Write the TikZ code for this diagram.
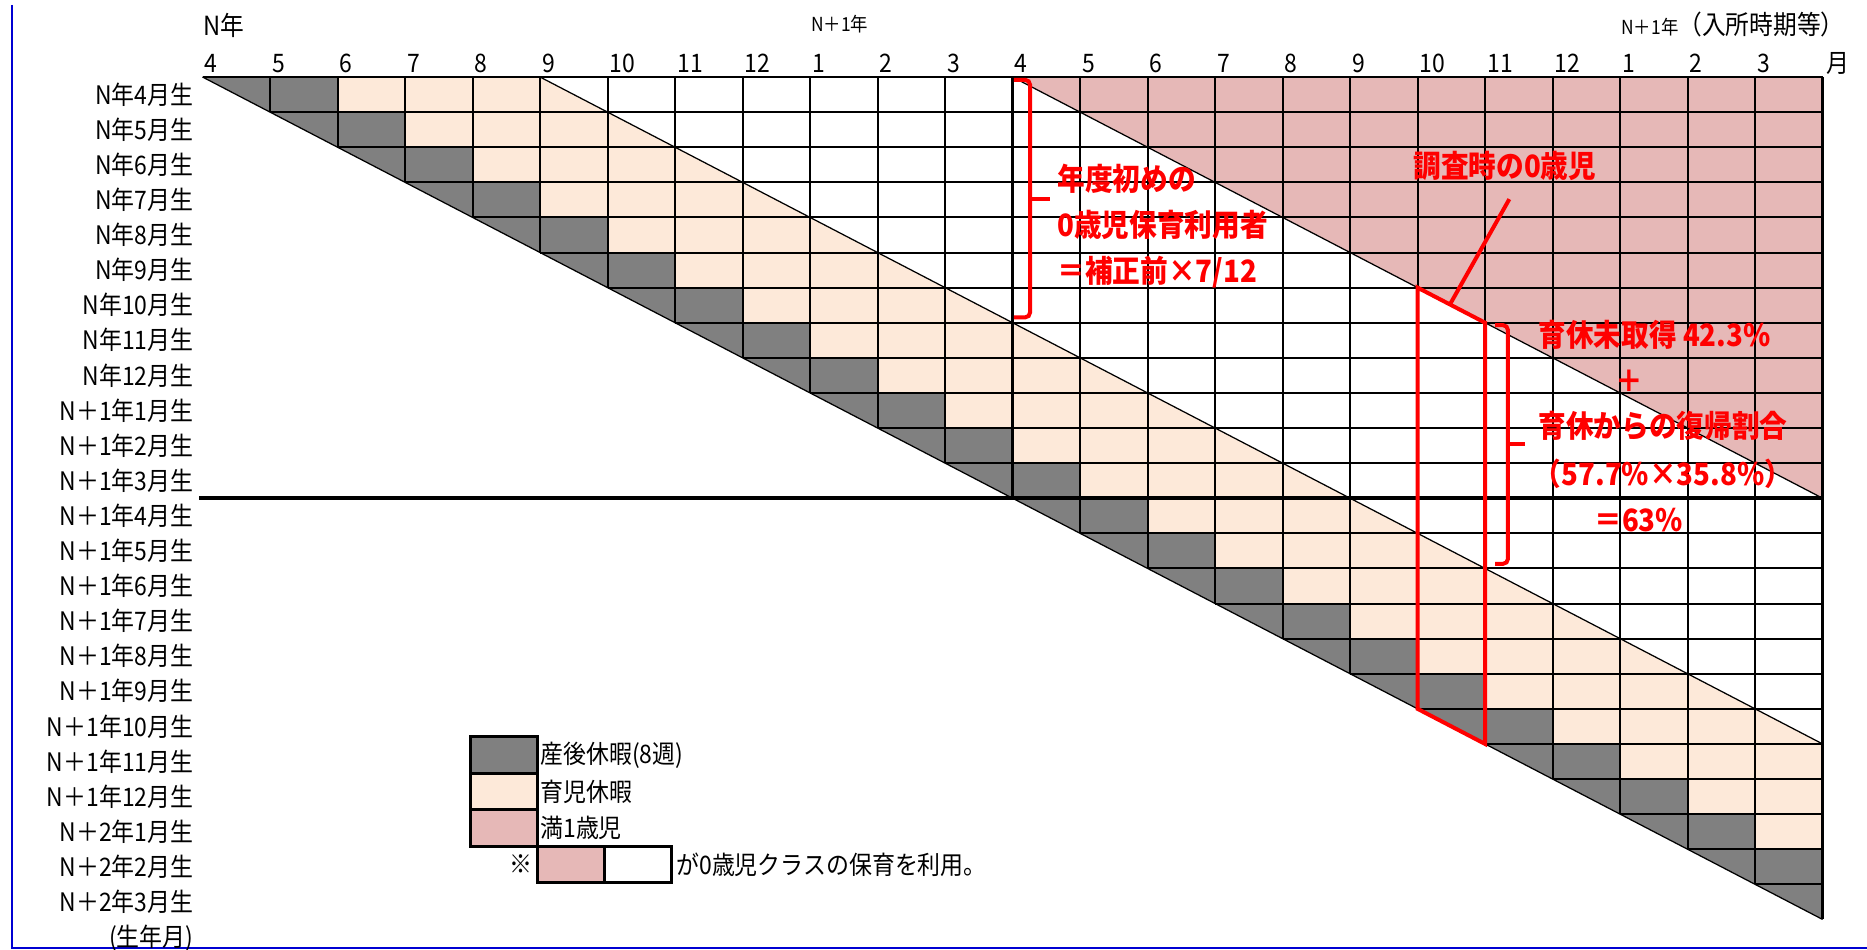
\documentclass[tikz,border=0pt]{standalone}
\usepackage{fontspec}
\setmainfont{Noto Sans CJK JP}[FakeStretch=0.9]
\usetikzlibrary{positioning,calc}
\definecolor{leavegray}{RGB}{128,128,128}
\definecolor{careleave}{RGB}{253,233,217}
\definecolor{oneyear}{RGB}{230,184,183}
\definecolor{frameblue}{RGB}{0,0,210}

\begin{document}
\begin{tikzpicture}[x=0.2mm,y=-0.2mm,
  txt/.style={inner sep=0pt,font=\fontsize{14.5}{17}\selectfont},
  redtxt/.style={inner sep=0pt,text=red,font=\fontsize{17.5}{26}\selectfont\bfseries},
  cellline/.style={line width=0.4mm},
  boldline/.style={line width=0.75mm},
  diagline/.style={line width=0.25mm},
  redline/.style={red,line width=0.8mm,rounded corners=1mm},
  legbox/.style={draw,line width=0.6mm,minimum width=13.4mm,minimum height=7.3mm,inner sep=0pt,outer sep=0pt}]
\useasboundingbox (0,0) rectangle (1867,950);
\draw [frameblue,line width=0.4mm] (12,5) -- (12,948) -- (1867,948) ;

\begin{scope}[shift={(40.5mm,-15.4mm)},x=13.5mm,y=-7.02mm]
\begin{scope}
\clip (0,0) rectangle (24,24);
\fill [oneyear] (12,0) -- (24,0) -- (24,12) -- cycle;
\foreach \r in {0,...,23} {
  \fill [leavegray] (\r,\r) -- ++(2,0) -- ++(0,1) -- ++(-1,0) -- cycle;
  \fill [careleave] (\r+2,\r) -- ++(3,0) -- ++(1,1) -- ++(-4,0) -- cycle;
}
\end{scope}
\foreach \r in {0,...,23} \draw [cellline] (\r,\r) -- (24,\r) ;
\foreach \c in {1,...,23} \draw [cellline] (\c,0) -- (\c,\c) ;
\draw [boldline] (-0.05,12) -- (24,12) ;
\draw [boldline] (12,0) -- (12,12) ;
\draw [boldline] (24,0) -- (24,24) ;
\draw [diagline] (0,0) -- (24,24) ;
\draw [diagline] (5,0) -- (24,19) ;
\draw [diagline] (12,0) -- (24,12) ;

\foreach \m [count=\c from 0] in {4,5,6,7,8,9,10,11,12,1,2,3,4,5,6,7,8,9,10,11,12,1,2,3}
  \node [txt,anchor=base west] (mon-\c) at (\c+0.03,-0.14) {\m};
\foreach \lab [count=\r from 0] in {N年4月生,N年5月生,N年6月生,N年7月生,N年8月生,N年9月生,N年10月生,N年11月生,N年12月生,N＋1年1月生,N＋1年2月生,N＋1年3月生,N＋1年4月生,N＋1年5月生,N＋1年6月生,N＋1年7月生,N＋1年8月生,N＋1年9月生,N＋1年10月生,N＋1年11月生,N＋1年12月生,N＋2年1月生,N＋2年2月生,N＋2年3月生}
  \node [txt,anchor=east] (born-\r) at (-0.13,\r+0.5) {\lab};
\node [txt,anchor=east] (born) at (-0.13,24.53) {(生年月)};

\draw [redline,rounded corners=0pt] (18,6) -- (19,7) -- (19,19) -- (18,18) -- cycle ;
\coordinate (tip) at (19.36,3.48);
\coordinate (foot) at (18.48,6.48);
\draw [redline] (tip) -- (foot) ;
\draw [redline] (12.02,0.08) -- (12.26,0.08) -- (12.26,6.85) -- (12.02,6.85) ;
\draw [redline] (12.26,3.47) -- (12.55,3.47) ;
\draw [redline] (19.15,7.07) -- (19.34,7.07) -- (19.34,13.87) -- (19.15,13.87) ;
\draw [redline] (19.34,10.46) -- (19.59,10.46) ;
\end{scope}

\node [txt,anchor=base west,font=\fontsize{15}{18}\selectfont] (year-n) at (203,36) {N年};
\node [txt,anchor=base west,font=\fontsize{11}{13}\selectfont] (year-n1) at (811,32) {N＋1年};
\node [txt,anchor=base west] (entry) at (1621,35) {{\fontsize{11}{13}\selectfont N＋1年}{\fontsize{15}{18}\selectfont （入所時期等）}};
\node [txt,anchor=base west] (month) at (1826,73) {月};

\node [redtxt,align=left,anchor=west] (usage) at (1057,226) {年度初めの\\0歳児保育利用者\\＝補正前×7/12};
\node [redtxt,anchor=west] (survey) at (1413,166) {調査時の0歳児};
\node [redtxt,anchor=west] (notyet) at (1538,335) {育休未取得 42.3\%};
\node [redtxt] (plus) at (1629,381) {＋};
\node [redtxt,anchor=west] (back) at (1538,426) {育休からの復帰割合};
\node [redtxt] (rate) at (1663,474) {（57.7\%×35.8\%）};
\node [redtxt,anchor=west] (total) at (1594,520) {＝63\%};

\node [legbox,fill=leavegray] (key-leave) at (503.5,755) {};
\node [legbox,fill=careleave,below=0pt of key-leave] (key-care) {};
\node [legbox,fill=oneyear,below=0pt of key-care] (key-one) {};
\node [legbox,fill=oneyear,anchor=north west] (key-pink) at (key-one.south east) {};
\node [legbox,fill=white,right=0pt of key-pink] (key-white) {};
\node [txt,anchor=west,xshift=0.6mm] (key-leave-txt) at (key-leave.east) {産後休暇(8週)};
\node [txt,anchor=west,xshift=0.6mm] (key-care-txt) at (key-care.east) {育児休暇};
\node [txt,anchor=west,xshift=0.6mm] (key-one-txt) at (key-one.east) {満1歳児};
\node [txt,anchor=east,xshift=-0.8mm] (key-mark) at (key-pink.west) {※};
\node [txt,anchor=west,xshift=1mm] (key-use) at (key-white.east) {が0歳児クラスの保育を利用。};
\end{tikzpicture}
\end{document}
